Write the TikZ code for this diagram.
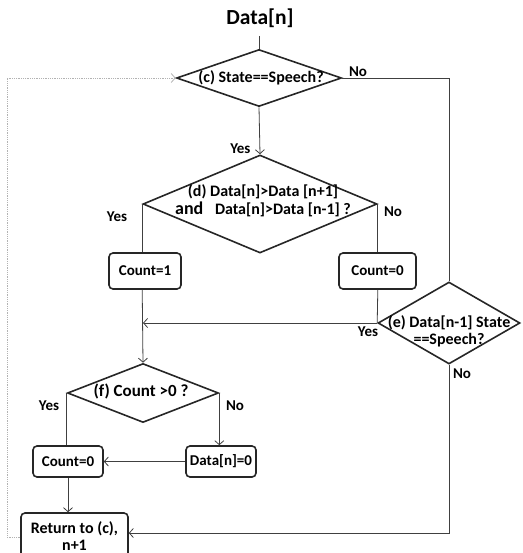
\documentclass[tikz,border=0pt]{standalone}
\usepackage{fontspec}
\setmainfont{Carlito}
\usetikzlibrary{positioning, arrows.meta, shapes.geometric}

\tikzset{
  decisao/.style={diamond, draw=black!85, line width=1.6pt, inner sep=0pt},
  caixa/.style={draw=black!85, line width=1.6pt, rounded corners=4pt, inner sep=0pt, align=center},
  seta/.style={-{Straight Barb[length=4pt, width=9pt]}},
  linha/.style={draw=black!75, line width=0.8pt},
  retorno/.style={draw=gray!60, line width=0.8pt, densely dotted},
  rotulo/.style={font=\bfseries\fontsize{15}{16}\selectfont},
}

\begin{document}
\begin{tikzpicture}[x=1pt, y=-1pt, font=\bfseries\fontsize{15}{18}\selectfont]
    \useasboundingbox (0,0) rectangle (522,553);
    % Entrada
    \node[font=\bfseries\fontsize{21.5}{24}\selectfont] (titulo) at (260,18) {Data[n]};
    \coordinate (entrada) at (259,36);
    % Decisao (c)
    \node[decisao, minimum width=165pt, minimum height=57pt] (c) at (259,78) {};
    \node[font=\bfseries\fontsize{16}{18}\selectfont] (ctxt) at (261,78) {(c) State==Speech?};
    % Decisao (d)
    \node[decisao, minimum width=234pt, minimum height=98pt] (d) at (260,204) {};
    \node[align=center, font=\bfseries\fontsize{16}{18}\selectfont] (dtxt) at (263,201)
      {(d) Data[n]>Data [n+1]\\{\fontsize{18}{18}\selectfont and}\enspace\ Data[n]>Data [n-1] ?};
    % Contadores
    \node[caixa, minimum width=72pt, minimum height=36pt] (cnt1) at (145,271) {Count=1};
    \node[caixa, minimum width=77pt, minimum height=36pt] (cnt0) at (377.5,271) {Count=0};
    % Decisao (e)
    \node[decisao, minimum width=142pt, minimum height=82pt] (e) at (449,323) {};
    \node[align=center, font=\bfseries\fontsize{16}{17}\selectfont] (etxt) at (449,331)
      {(e) Data[n-1] State\\==Speech?};
    % Decisao (f)
    \node[decisao, minimum width=151pt, minimum height=59pt] (f) at (143,393) {};
    \node[font=\bfseries\fontsize{17}{18}\selectfont] (ftxt) at (141,391) {(f) Count >0 ?};
    \node[caixa, minimum width=70pt, minimum height=31pt] (cnt0b) at (68,461.5) {Count=0};
    \node[caixa, minimum width=70pt, minimum height=31pt] (data0) at (221,461.5) {Data[n]=0};
    % Retorno
    \node[caixa, minimum width=107pt, minimum height=46pt, font=\bfseries\fontsize{16}{17}\selectfont]
      (ret) at (74.5,536) {Return to (c),\\n+1};

    % Ligacoes
    \draw[linha] (entrada) -- (c.north);
    \draw[linha, seta] (c.south) -- (d.north);
    \node[rotulo, anchor=east] (sim1) at (254,149) {Yes};
    \draw[linha] (c.east) -| (e.north);
    \node[rotulo] (nao1) at (358,72) {No};
    \draw[linha] (d.west) -- (d.west |- cnt1.north);
    \node[rotulo] (sim2) at (117,217) {Yes};
    \draw[linha] (d.east) -- (d.east |- cnt0.north);
    \node[rotulo] (nao2) at (393,212) {No};
    \draw[linha, seta] (d.west |- cnt1.south) -- (f.north);
    \draw[linha] (d.east |- cnt0.south) -- (e.west);
    \draw[linha, seta] (e.west) -- (e.west -| f.north);
    \node[rotulo] (sim3) at (368,332) {Yes};
    \draw[linha] (f.west) -- (f.west |- cnt0b.north);
    \node[rotulo] (sim4) at (49,406) {Yes};
    \draw[linha, seta] (f.east) -- (f.east |- data0.north);
    \node[rotulo] (nao4) at (235,406) {No};
    \draw[linha, seta] (data0.west) -- (cnt0b.east);
    \draw[linha, seta] (cnt0b.south) -- (cnt0b.south |- ret.north);
    \draw[linha, seta] (e.south) |- ([yshift=3pt]ret.east);
    \node[rotulo] (nao3) at (462,374) {No};
    \draw[retorno, seta] ([yshift=-1pt]ret.west) -- ++(-13,0) |- (c.west);
\end{tikzpicture}
\end{document}
